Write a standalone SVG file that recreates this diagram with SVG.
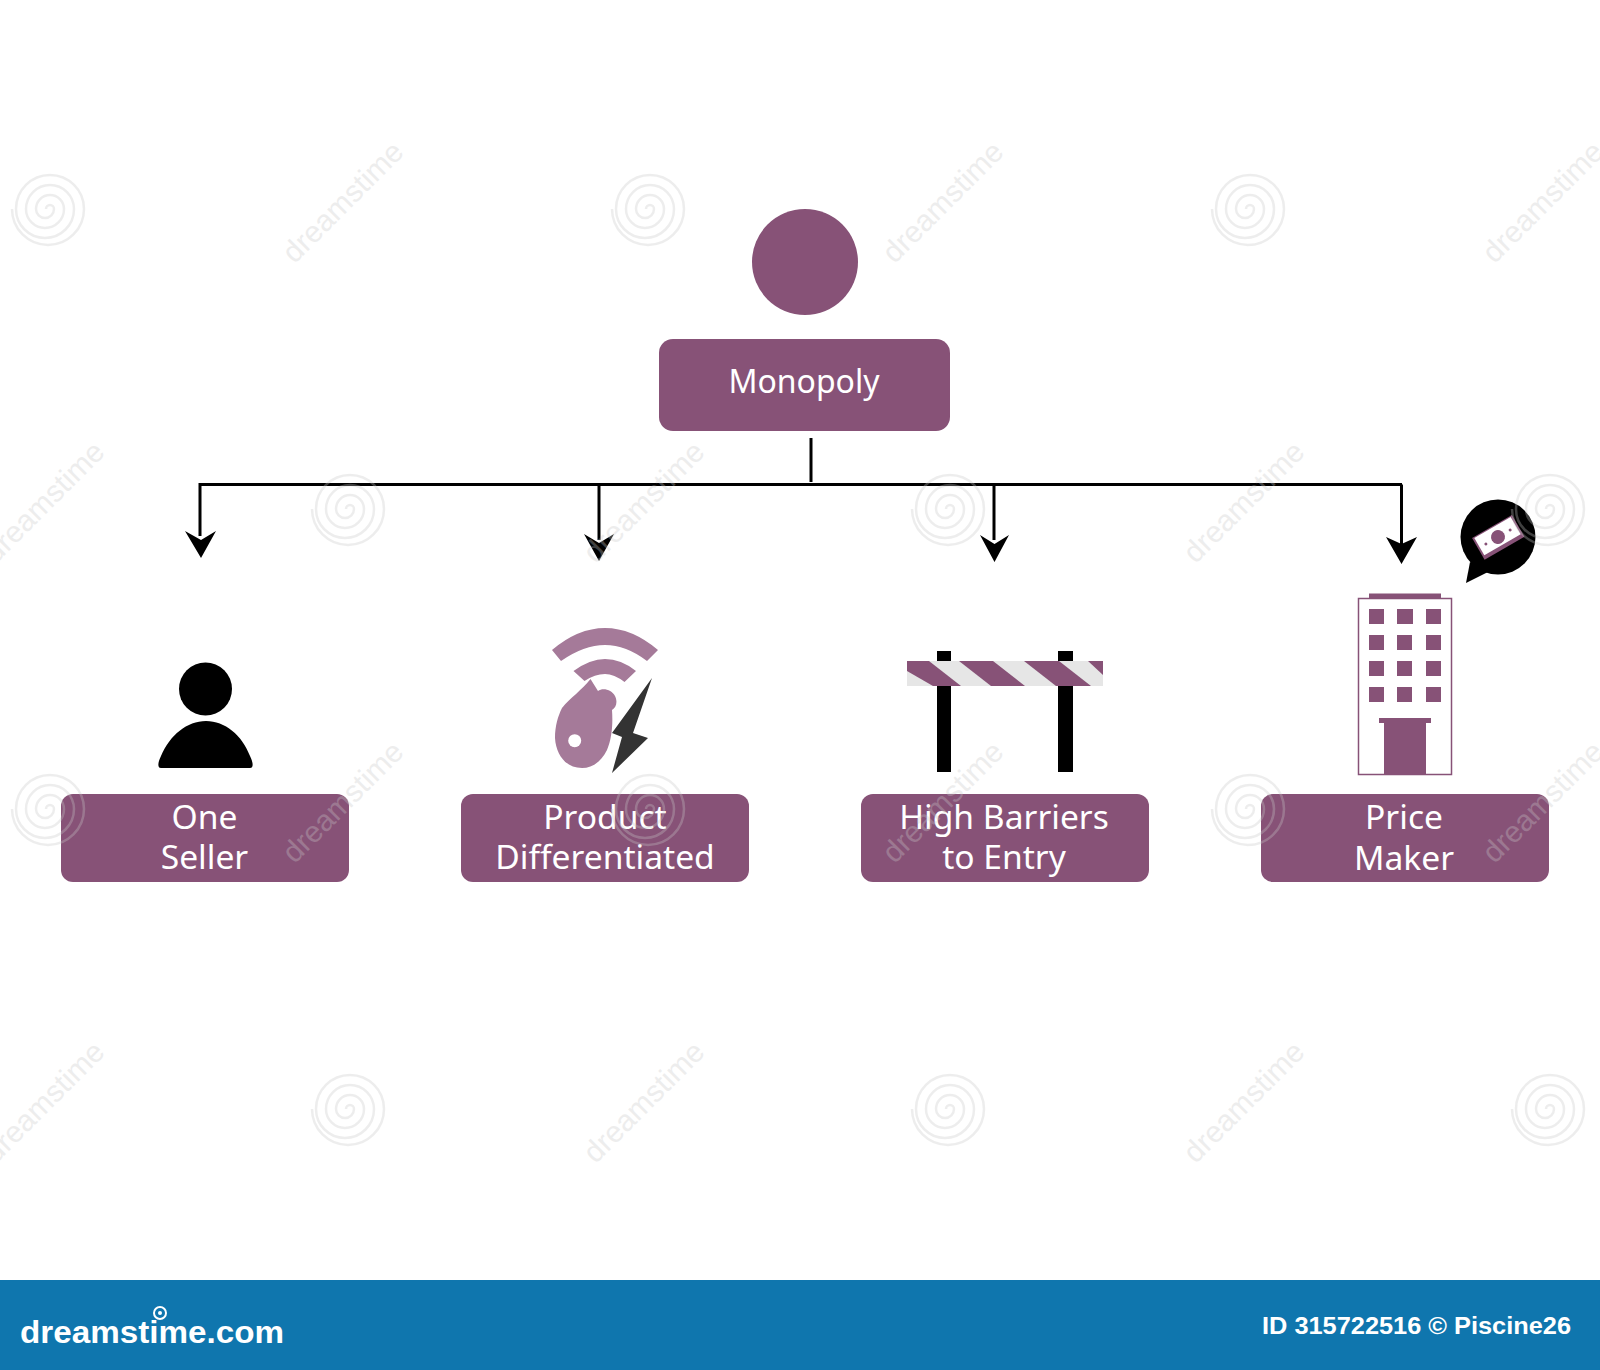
<svg xmlns="http://www.w3.org/2000/svg" width="1600" height="1370" viewBox="0 0 1600 1370">
<style>
.p{fill:#875277}
.lbl{font-family:"Noto Sans","Open Sans",sans-serif;font-size:33.600px;fill:#fff;text-anchor:middle}
.conn{fill:none;stroke:#000;stroke-width:3}
.wm{fill:none;stroke:#c8c8c8;stroke-width:2.500;opacity:.32}
.wt{font-family:"Liberation Sans",sans-serif;font-size:30px;fill:#c8c8c8;opacity:.32;text-anchor:middle}
.lw{fill:#a57a99}
</style>
<defs>
<g id="sp"><path class="wm" d="M-3 0A4 4 0 0 1 5 0A9 9 0 0 1 -13 0A14 14 0 0 1 15 0A19 19 0 0 1 -23 0A24 24 0 0 1 25 0A29 29 0 0 1 -33 0A34 34 0 0 1 35 0A36 36 0 0 1 -37 0"/></g>
</defs>
<rect width="1600" height="1370" fill="#fff"/>

<g id="monopoly-circle"><circle cx="805" cy="262" r="53" class="p"/></g>
<g id="monopoly"><rect x="659" y="339" width="291" height="92" rx="14" class="p"/><text x="804" y="393" class="lbl" style="font-size:32px">Monopoly</text></g>

<g id="connectors">
<path class="conn" d="M811 438V482"/>
<path class="conn" d="M200 536V484.500H1402"/>
<path d="M201 558L185 531L201 540L216 531Z" fill="#000"/>
<path class="conn" d="M599 484.500V540"/>
<path d="M599 561L584 534L599 543L614 534Z" fill="#000"/>
<path class="conn" d="M994 484.500V540"/>
<path d="M994.500 562L980 535L994.500 544L1009 535Z" fill="#000"/>
<path class="conn" d="M1401.500 484.500V545"/>
<path d="M1401.500 564L1386 537L1401.500 544L1417 537Z" fill="#000"/>
</g>

<g id="one-seller">
<circle cx="205.500" cy="689" r="26.500" fill="#000"/>
<path d="M161 768C157 768 158 762 161 756C170 735 187 721 206 721C225 721 242 735 250 756C253 762 254 768 250 768Z" fill="#000"/>
<rect x="61" y="794" width="288" height="88" rx="12" class="p"/>
<text class="lbl"><tspan x="204.500" y="829">One</tspan><tspan x="204.500" y="869">Seller</tspan></text>
</g>

<g id="product-differentiated">
<path class="lw" d="M552 650Q578 628 605 628Q632 628 658 650L647 661Q626 645 605 645Q584 645 561 661Z"/>
<path class="lw" d="M573.500 671Q590 659 605 659Q621 659 636 671L624.500 682Q614 674 605 674Q595 674 584.500 681Z"/>
<path class="lw" d="M590.500 679L598 691C603 687 612 690 615 696C618 702 616 708 612 710C613 724 612 738 607 750C601 762 592 768 582 768C566 768 556 755 555 738C555 726 558 716 562 708C570 698 582 690 590.500 679Z"/>
<circle cx="574.700" cy="740.700" r="6.500" fill="#fff"/>
<path d="M652 678L612 733L622 737L612 773L648 738L633 733Z" fill="#333"/>
<rect x="461" y="794" width="288" height="88" rx="12" class="p"/>
<text class="lbl"><tspan x="605" y="829">Product</tspan><tspan x="605" y="869">Differentiated</tspan></text>
</g>

<g id="high-barriers">
<rect x="937" y="651" width="14" height="121" fill="#000"/>
<rect x="1058" y="651" width="15" height="121" fill="#000"/>
<rect x="907" y="661" width="196" height="25" fill="#e6e6e6"/>
<path class="p" d="M907 661H929L961 686H933L907 671Z"/>
<path class="p" d="M959 661H993L1025 686H991Z"/>
<path class="p" d="M1024 661H1059L1091 686H1056Z"/>
<path class="p" d="M1088 661H1103V675Z"/>
<rect x="861" y="794" width="288" height="88" rx="12" class="p"/>
<text class="lbl"><tspan x="1004" y="829">High Barriers</tspan><tspan x="1004" y="869">to Entry</tspan></text>
</g>

<g id="price-maker">
<rect x="1358.500" y="598.500" width="93" height="176" fill="#fff" stroke="#875277" stroke-width="1.500"/>
<rect x="1369" y="593.500" width="72" height="5" class="p"/>
<g class="p">
<rect x="1369" y="609" width="15" height="15"/><rect x="1397" y="609" width="16" height="15"/><rect x="1426" y="609" width="15" height="15"/>
<rect x="1369" y="635" width="15" height="15"/><rect x="1397" y="635" width="15" height="15"/><rect x="1426" y="635" width="15" height="15"/>
<rect x="1369" y="661" width="15" height="15"/><rect x="1397" y="661" width="15" height="15"/><rect x="1426" y="661" width="15" height="15"/>
<rect x="1369" y="687" width="15" height="15"/><rect x="1397" y="687" width="15" height="15"/><rect x="1426" y="687" width="15" height="15"/>
<rect x="1379" y="718" width="52" height="5"/><rect x="1384" y="723" width="42" height="52"/>
</g>
<circle cx="1498" cy="537" r="37.500" fill="#000"/>
<path d="M1470 562L1466 583L1490 571Z" fill="#000"/>
<g transform="rotate(-30 1498 537)">
<rect x="1475" y="525" width="46" height="25" class="p"/>
<rect x="1477" y="526" width="42" height="20" fill="#fff"/>
<circle cx="1498" cy="537" r="7" class="p"/>
<circle cx="1484" cy="537" r="1.500" class="p"/><circle cx="1512" cy="537" r="1.500" class="p"/>
</g>
<rect x="1261" y="794" width="288" height="88" rx="12" class="p"/>
<text class="lbl"><tspan x="1404" y="829">Price</tspan><tspan x="1404" y="870">Maker</tspan></text>
</g>

<g id="banner">
<rect y="1280" width="1600" height="90" fill="#0f76ae"/>
<circle cx="160" cy="1313" r="6" fill="none" stroke="#fff" stroke-width="2"/><circle cx="160" cy="1313" r="2" fill="#fff"/>
<text x="20" y="1343" font-family="'Liberation Sans',sans-serif" font-weight="bold" font-size="31" fill="#fff" textLength="264" lengthAdjust="spacingAndGlyphs">dreamstime.com</text>
<text x="1262" y="1334" font-family="'Liberation Sans',sans-serif" font-weight="bold" font-size="23" fill="#fff" textLength="309" lengthAdjust="spacingAndGlyphs">ID 315722516 © Piscine26</text>
</g>

<g id="watermarks">
<use href="#sp" x="49" y="209"/><use href="#sp" x="649" y="209"/><use href="#sp" x="1249" y="209"/>
<use href="#sp" x="349" y="509"/><use href="#sp" x="949" y="509"/><use href="#sp" x="1549" y="509"/>
<use href="#sp" x="49" y="809"/><use href="#sp" x="649" y="809"/><use href="#sp" x="1249" y="809"/>
<use href="#sp" x="349" y="1109"/><use href="#sp" x="949" y="1109"/><use href="#sp" x="1549" y="1109"/>
<text class="wt" transform="translate(350 209) rotate(-45)">dreamstime</text>
<text class="wt" transform="translate(950 209) rotate(-45)">dreamstime</text>
<text class="wt" transform="translate(1550 209) rotate(-45)">dreamstime</text>
<text class="wt" transform="translate(51 509) rotate(-45)">dreamstime</text>
<text class="wt" transform="translate(651 509) rotate(-45)">dreamstime</text>
<text class="wt" transform="translate(1251 509) rotate(-45)">dreamstime</text>
<text class="wt" transform="translate(350 809) rotate(-45)">dreamstime</text>
<text class="wt" transform="translate(950 809) rotate(-45)">dreamstime</text>
<text class="wt" transform="translate(1550 809) rotate(-45)">dreamstime</text>
<text class="wt" transform="translate(51 1109) rotate(-45)">dreamstime</text>
<text class="wt" transform="translate(651 1109) rotate(-45)">dreamstime</text>
<text class="wt" transform="translate(1251 1109) rotate(-45)">dreamstime</text>
</g>
</svg>
